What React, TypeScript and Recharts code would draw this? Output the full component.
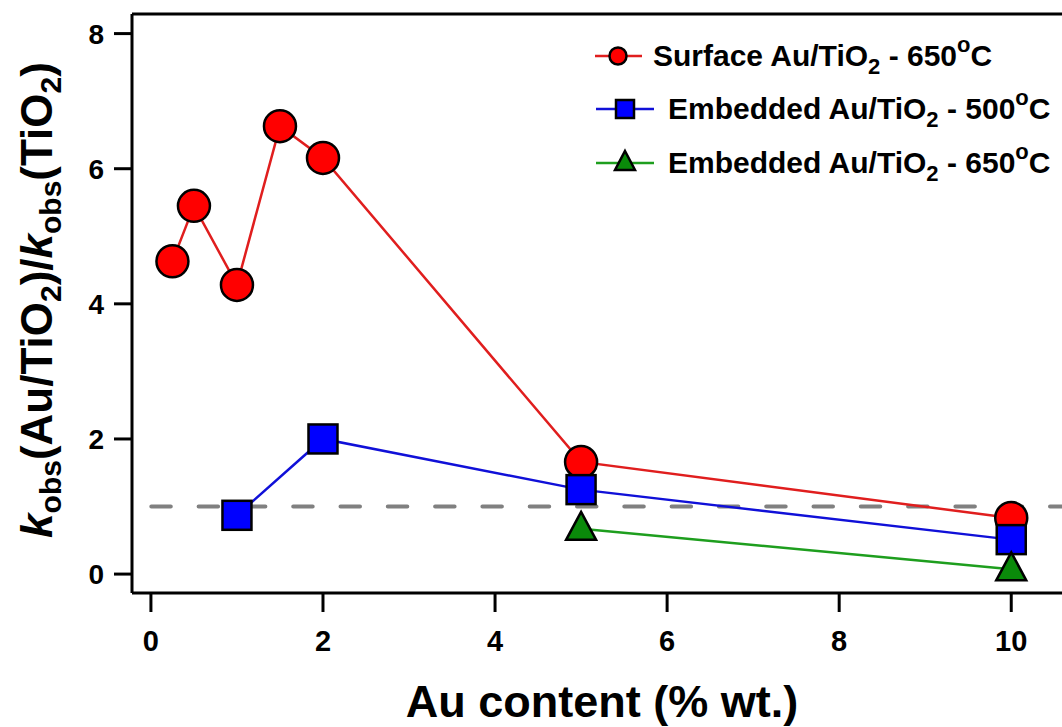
import React from 'react';
import { LineChart, Line, XAxis, YAxis, ReferenceLine, Legend } from 'recharts';

// ---- data ----
const surface650X = [0.25, 0.5, 1, 1.5, 2, 5, 10];
const surface650Y = [4.63, 5.45, 4.28, 6.63, 6.16, 1.66, 0.83];
const embedded500X = [1, 2, 5, 10];
const embedded500Y = [0.87, 2.0, 1.25, 0.51];
const embedded650X = [5, 10];
const embedded650Y = [0.67, 0.07];
const xTicks = [0, 2, 4, 6, 8, 10];
const yTicks = [0, 2, 4, 6, 8];
const baselineRatio = 1;
const xDomain: [number, number] = [-0.22, 10.59];
const yDomain: [number, number] = [-0.28, 8.29];

const surface650 = surface650X.map((x, i) => ({ x, y: surface650Y[i] }));
const embedded500 = embedded500X.map((x, i) => ({ x, y: embedded500Y[i] }));
const embedded650 = embedded650X.map((x, i) => ({ x, y: embedded650Y[i] }));

const FONT = '"Liberation Sans", Arial, Helvetica, sans-serif';
const RED_FILL = '#ff0000';
const RED_LINE = '#e01e1e';
const BLUE_FILL = '#0000ff';
const BLUE_LINE = '#1010d8';
const GREEN_FILL = '#0a8a0a';
const GREEN_LINE = '#1e9e1e';

const CircleDot = (p: any) => (
  <circle key={`c-${p.index}`} cx={p.cx} cy={p.cy} r={16} fill={RED_FILL} stroke="#000" strokeWidth={2.5} />
);
const SquareDot = (p: any) => (
  <rect key={`s-${p.index}`} x={p.cx - 14.5} y={p.cy - 14.5} width={29} height={29} fill={BLUE_FILL} stroke="#000" strokeWidth={2.5} />
);
const TriangleDot = (p: any) => (
  <polygon
    key={`t-${p.index}`}
    points={`${p.cx},${p.cy - 17} ${p.cx + 15},${p.cy + 11} ${p.cx - 15},${p.cy + 11}`}
    fill={GREEN_FILL}
    stroke="#000"
    strokeWidth={2.5}
    strokeLinejoin="miter"
  />
);

const LegendRow = ({ y, textX, lineX1, lineX2, color, marker, label, temp }: any) => (
  <g>
    <line x1={lineX1} x2={lineX2} y1={y} y2={y} stroke={color} strokeWidth={2.5} />
    {marker}
    <text x={textX} y={y + 10} fontSize={30} fontWeight="bold" fontFamily={FONT} fill="#000">
      <tspan>{label}</tspan>
      <tspan fontSize={22} dy={8}>2</tspan>
      <tspan dy={-8}>{` - ${temp}`}</tspan>
      <tspan fontSize={22} dy={-14}>o</tspan>
      <tspan dy={14}>C</tspan>
    </text>
  </g>
);

const Overlay = () => (
  <svg width={1062} height={727} style={{ position: 'absolute', left: 0, top: 0, overflow: 'visible' }}>
    <LegendRow
      y={56}
      textX={653}
      lineX1={595}
      lineX2={642}
      color={RED_LINE}
      marker={<circle cx={618} cy={56} r={8.5} fill={RED_FILL} stroke="#000" strokeWidth={2.5} />}
      label="Surface Au/TiO"
      temp="650"
    />
    <LegendRow
      y={109}
      textX={668}
      lineX1={596}
      lineX2={654}
      color={BLUE_LINE}
      marker={<rect x={616} y={100} width={18} height={18} fill={BLUE_FILL} stroke="#000" strokeWidth={2.5} />}
      label="Embedded Au/TiO"
      temp="500"
    />
    <LegendRow
      y={163}
      textX={668}
      lineX1={596}
      lineX2={654}
      color={GREEN_LINE}
      marker={<polygon points="625,151 635,170 615,170" fill={GREEN_FILL} stroke="#000" strokeWidth={2.5} />}
      label="Embedded Au/TiO"
      temp="650"
    />
    <text x={602} y={717} textAnchor="middle" fontSize={45} fontWeight="bold" fontFamily={FONT} fill="#000">
      Au content (% wt.)
    </text>
    <text transform="translate(52,300) rotate(-90)" textAnchor="middle" fontSize={44} fontWeight="bold" fontFamily={FONT} fill="#000">
      <tspan fontStyle="italic">k</tspan>
      <tspan fontSize={30} dy={9}>obs</tspan>
      <tspan dy={-9}>(Au/TiO</tspan>
      <tspan fontSize={30} dy={9}>2</tspan>
      <tspan dy={-9}>)/</tspan>
      <tspan fontStyle="italic">k</tspan>
      <tspan fontSize={30} dy={9}>obs</tspan>
      <tspan dy={-9}>(TiO</tspan>
      <tspan fontSize={30} dy={9}>2</tspan>
      <tspan dy={-9}>)</tspan>
    </text>
  </svg>
);

export default function App() {
  return (
    <div style={{ position: 'absolute', left: 0, top: 0, width: 1062, height: 727, background: '#fff' }}>
      <LineChart width={1062} height={727} margin={{ top: 14, right: 0, bottom: 94, left: 72 }}>
        <XAxis
          type="number"
          dataKey="x"
          domain={xDomain}
          ticks={xTicks}
          allowDataOverflow
          height={40}
          tickSize={19}
          tickMargin={18}
          axisLine={{ stroke: '#000', strokeWidth: 3 }}
          tickLine={{ stroke: '#000', strokeWidth: 3 }}
          tick={{ fontSize: 29, fontWeight: 700, fontFamily: FONT, fill: '#000' }}
        />
        <YAxis
          type="number"
          dataKey="y"
          domain={yDomain}
          ticks={yTicks}
          allowDataOverflow
          width={60}
          tickSize={18}
          tickMargin={10}
          axisLine={{ stroke: '#000', strokeWidth: 3 }}
          tickLine={{ stroke: '#000', strokeWidth: 3 }}
          tick={{ fontSize: 28, fontWeight: 700, fontFamily: FONT, fill: '#000' }}
        />
        <ReferenceLine y={yDomain[1]} stroke="#000" strokeWidth={3} />
        <ReferenceLine
          y={baselineRatio}
          stroke="#808080"
          strokeWidth={4}
          strokeDasharray="19.5 27.8"
          strokeDashoffset={28}
          strokeLinecap="round"
        />
        <Line
          data={surface650}
          dataKey="y"
          name="Surface Au/TiO2 - 650°C"
          stroke={RED_LINE}
          strokeWidth={2.5}
          dot={CircleDot}
          activeDot={false}
          isAnimationActive={false}
        />
        <Line
          data={embedded500}
          dataKey="y"
          name="Embedded Au/TiO2 - 500°C"
          stroke={BLUE_LINE}
          strokeWidth={2.5}
          dot={SquareDot}
          activeDot={false}
          isAnimationActive={false}
        />
        <Line
          data={embedded650}
          dataKey="y"
          name="Embedded Au/TiO2 - 650°C"
          stroke={GREEN_LINE}
          strokeWidth={2.5}
          dot={TriangleDot}
          activeDot={false}
          isAnimationActive={false}
        />
        <Legend
          layout="horizontal"
          verticalAlign="middle"
          align="center"
          content={() => <Overlay />}
          wrapperStyle={{ position: 'absolute', left: 0, top: 0, width: 1062, height: 727, pointerEvents: 'none' }}
        />
      </LineChart>
    </div>
  );
}
